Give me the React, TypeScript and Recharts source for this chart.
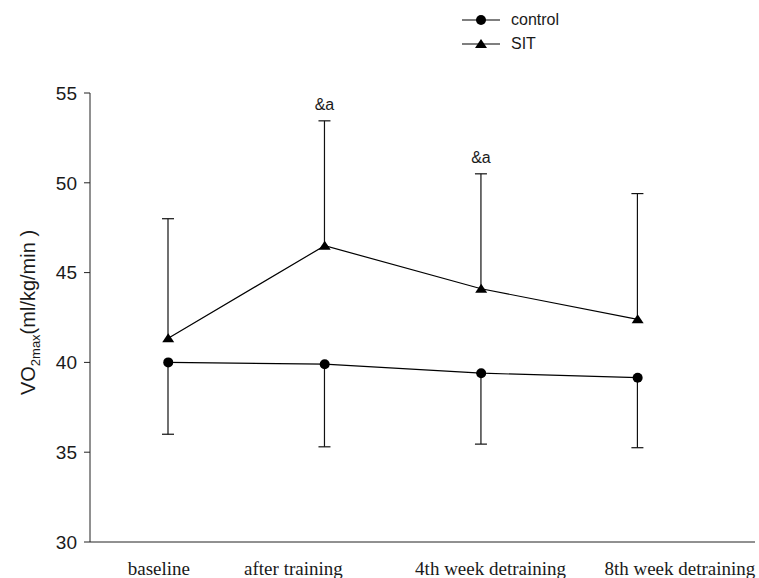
import { ComposedChart, Line, Bar, XAxis, YAxis, LabelList, Label } from "recharts";

const CATEGORIES = ["baseline", "after training", "4th week detraining", "8th week detraining"];
const X_POS = [1, 2, 3, 4];
const LABEL_POS = [0.94, 1.8, 3.06, 4.27];
const Y_TICKS = [30, 35, 40, 45, 50, 55];

const CONTROL_MEAN = [40.0, 39.9, 39.4, 39.15];
const CONTROL_LOW = [36.0, 35.3, 35.45, 35.25];
const SIT_MEAN = [41.35, 46.5, 44.1, 42.4];
const SIT_HIGH = [48.0, 53.45, 50.5, 49.4];
const SIT_MARK = ["", "&a", "&a", ""];

const SERIES = [
  { key: "control", name: "control" },
  { key: "sit", name: "SIT" },
];

const data = X_POS.map((x, i) => ({
  x,
  control: CONTROL_MEAN[i],
  controlLow: CONTROL_LOW[i],
  sit: SIT_MEAN[i],
  sitHigh: SIT_HIGH[i],
  mark: SIT_MARK[i],
}));

const SANS = "'Liberation Sans', Arial, sans-serif";
const SERIF = "'Liberation Serif', 'Times New Roman', serif";
const INK = "#1a1a1a";

function Circle({ cx, cy }: any) {
  return <circle cx={cx} cy={cy} r={5} fill="#000" />;
}

function Tri({ cx, cy }: any) {
  return <polygon points={`${cx},${cy - 5} ${cx + 6},${cy + 4} ${cx - 6},${cy + 4}`} fill="#000" />;
}

// one-sided error bar: cap only at the far end
const errorShape = (capAtTop: boolean) => (props: any) => {
  const { x, y, width, height } = props;
  if (x == null || y == null) return <g />;
  const cx = x + width / 2;
  const top = Math.min(y, y + height);
  const bottom = Math.max(y, y + height);
  const capY = capAtTop ? top : bottom;
  return (
    <g stroke="#111" strokeWidth={1.2}>
      <line x1={cx} x2={cx} y1={top} y2={bottom} />
      <line x1={cx - 6} x2={cx + 6} y1={capY} y2={capY} />
    </g>
  );
};

function YTitle({ viewBox }: any) {
  const x = (viewBox?.x ?? 30) + 5;
  const y = (viewBox?.y ?? 93) + (viewBox?.height ?? 449) / 2 - 5;
  return (
    <text
      x={x}
      y={y}
      transform={`rotate(-90, ${x}, ${y})`}
      textAnchor="middle"
      fontFamily={SANS}
      fontSize={20}
      fill={INK}
    >
      VO
      <tspan fontSize={13} dy={5}>2max</tspan>
      <tspan fontSize={20} dy={-5}>(ml/kg/min )</tspan>
    </text>
  );
}

function LegendBox() {
  return (
    <div style={{ position: "absolute", left: 462, top: 8, fontFamily: SANS, fontSize: 16, color: INK }}>
      {SERIES.map((s) => (
        <div key={s.key} style={{ display: "flex", alignItems: "center", height: 24 }}>
          <svg width={40} height={16}>
            <line x1={0} x2={38} y1={8} y2={8} stroke="#000" strokeWidth={1.2} />
            {s.key === "control" ? <Circle cx={19} cy={8} /> : <Tri cx={19} cy={8} />}
          </svg>
          <span style={{ marginLeft: 9 }}>{s.name}</span>
        </div>
      ))}
    </div>
  );
}

export default function App() {
  return (
    <div style={{ position: "fixed", left: 0, top: 0, width: 759, height: 578, background: "#fff" }}>
      <ComposedChart width={759} height={578} data={data} margin={{ top: 93, right: 4, bottom: 0, left: 30 }}>
        <XAxis
          xAxisId="main"
          type="number"
          dataKey="x"
          domain={[0.5, 4.75]}
          allowDataOverflow
          ticks={LABEL_POS}
          interval={0}
          tickFormatter={(_v: any, i: number) => CATEGORIES[i]}
          height={36}
          tickSize={0}
          tickMargin={20}
          tick={{ fontFamily: SERIF, fontSize: 19, fill: INK }}
          axisLine={{ stroke: "#222" }}
          tickLine={false}
        />
        <XAxis xAxisId="c" type="number" dataKey="x" domain={[0.5, 4.75]} allowDataOverflow hide height={0} />
        <XAxis xAxisId="s" type="number" dataKey="x" domain={[0.5, 4.75]} allowDataOverflow hide height={0} />
        <YAxis
          type="number"
          domain={[30, 55]}
          ticks={Y_TICKS}
          interval={0}
          width={60}
          tickSize={6}
          tickMargin={7}
          tick={{ fontFamily: SANS, fontSize: 19, fill: INK }}
          axisLine={{ stroke: "#222" }}
          tickLine={{ stroke: "#222" }}
        >
          <Label content={<YTitle />} />
        </YAxis>
        <Bar
          xAxisId="c"
          dataKey={(d: any) => [d.controlLow, d.control]}
          barSize={12}
          shape={errorShape(false)}
          legendType="none"
          isAnimationActive={false}
        />
        <Bar
          xAxisId="s"
          dataKey={(d: any) => [d.sit, d.sitHigh]}
          barSize={12}
          shape={errorShape(true)}
          legendType="none"
          isAnimationActive={false}
        >
          <LabelList dataKey="mark" position="top" offset={11} fontFamily={SANS} fontSize={16} fill={INK} />
        </Bar>
        <Line
          xAxisId="main"
          dataKey="control"
          name="control"
          stroke="#000"
          strokeWidth={1.2}
          dot={(p: any) => <Circle key={`c${p.index}`} cx={p.cx} cy={p.cy} />}
          activeDot={false}
          isAnimationActive={false}
        />
        <Line
          xAxisId="main"
          dataKey="sit"
          name="SIT"
          stroke="#000"
          strokeWidth={1.2}
          dot={(p: any) => <Tri key={`s${p.index}`} cx={p.cx} cy={p.cy} />}
          activeDot={false}
          isAnimationActive={false}
        />
      </ComposedChart>
      <LegendBox />
    </div>
  );
}
